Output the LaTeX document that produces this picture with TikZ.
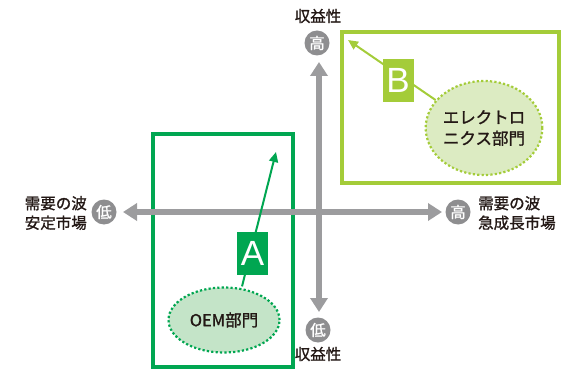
\documentclass[tikz,border=0pt]{standalone}
\usepackage{fontspec}
\setmainfont{Liberation Sans}
\newfontfamily\jp[FakeBold=1.2]{Noto Sans CJK JP}
\usetikzlibrary{arrows.meta,shapes.geometric}
\definecolor{axisgray}{HTML}{9C9C9E}
\definecolor{circgray}{HTML}{8E8E90}
\definecolor{gA}{HTML}{00A651}
\definecolor{gAfill}{HTML}{C4E4C8}
\definecolor{gB}{HTML}{A4CC39}
\definecolor{gBfill}{HTML}{DCEBC2}
\definecolor{txt}{HTML}{231815}
\tikzset{
  axis/.style={draw=axisgray,line width=6pt,-{Triangle[length=14pt,width=17pt]}},
  dot/.style={circle,fill=circgray,minimum size=25pt,inner sep=0pt,text=white,font=\jp\fontsize{15.5}{15.5}\selectfont},
  lbl/.style={text=txt,font=\jp\fontsize{15.5}{19.5}\selectfont,inner sep=0pt},
  elbl/.style={text=txt,font=\jp\fontsize{16.5}{21}\selectfont,inner sep=0pt},
  letter/.style={text=white,font=\fontsize{35}{35}\selectfont,inner sep=0pt,minimum width=31pt,minimum height=43pt},
}
\begin{document}
\begin{tikzpicture}[x=1pt,y=-1pt]
\useasboundingbox (0,0) rectangle (561,371);
% boxes
\node[draw=gA,line width=4pt,minimum width=140pt,minimum height=232pt,inner sep=0pt] (boxA) at (222.5,250.5) {};
\node[draw=gB,line width=4pt,minimum width=217pt,minimum height=151pt,inner sep=0pt] (boxB) at (450.5,107.5) {};
% axes
\coordinate (vtop) at (319,62);
\coordinate (vbot) at (319,312);
\coordinate (hl) at (123,212);
\coordinate (hr) at (442,212);
\coordinate (hc) at (282,212);
\coordinate (vc) at (319,187);
\draw[axis] (hc) -- (hl);
\draw[axis] (hc) -- (hr);
\draw[axis] (vc) -- (vtop);
\draw[axis] (vc) -- (vbot);
% circles
\node[dot] (ctop) at (317,43) {高};
\node[dot] (cbot) at (318,330) {低};
\node[dot] (cleft) at (104,212) {低};
\node[dot] (cright) at (458,212) {高};
\node[lbl] (ltop) at (318,16) {収益性};
\node[lbl] (lbot) at (318,354) {収益性};
\node[lbl,anchor=east,align=left] (lleft) at (87,213) {需要の波\\安定市場};
\node[lbl,anchor=west,align=left] (lright) at (478,213) {需要の波\\急成長市場};
% ellipses
\node[ellipse,draw=gA,fill=gAfill,line width=2.2pt,dash pattern=on 2.2pt off 2.2pt,minimum width=111pt,minimum height=65pt,inner sep=0pt,elbl] (eA) at (224,320) {OEM部門};
\node[ellipse,draw=gB,fill=gBfill,line width=2.2pt,dash pattern=on 2.2pt off 2.2pt,minimum width=114pt,minimum height=94pt,inner sep=0pt,elbl,align=center] (eB) at (484,128) {エレクトロ\\ニクス部門};
% arrows
\coordinate (tipA) at (276,152);
\coordinate (tipB) at (348,40);
\draw[gA,line width=2pt,-{Triangle[length=10pt,width=9pt]}] (eA.north) ++(18,0) coordinate (sA) -- (tipA);
\draw[gB,line width=2pt,-{Triangle[length=10pt,width=9pt]}] (eB.150) -- (tipB);
% letters
\node[letter,fill=gA] (A) at (252.5,253.5) {A};
\node[letter,fill=gB] (B) at (398,80.5) {B};
\end{tikzpicture}
\end{document}
